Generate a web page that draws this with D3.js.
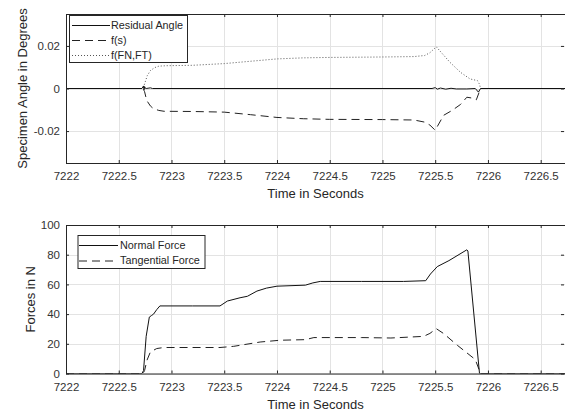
<!DOCTYPE html>
<html>
<head>
<meta charset="utf-8">
<title>Specimen angle and forces</title>
<script src="https://d3js.org/d3.v7.min.js"></script>
<style>
body { margin: 0; background: #fff; }
text { font-family: "Liberation Sans", Arial, Helvetica, sans-serif; }
.grid line { stroke: #e3e3e3; stroke-width: 1px; }
.line { fill: none; stroke-width: 1px; }
</style>
</head>
<body>
<div id="chart"></div>
<script>

// ---- data ----
var xTicks = [7222, 7222.5, 7223, 7223.5, 7224, 7224.5, 7225, 7225.5, 7226, 7226.5];
var xTickLabels = ["7222", "7222.5", "7223", "7223.5", "7224", "7224.5", "7225", "7225.5", "7226", "7226.5"];
var xDomain = [7222, 7226.74];

var angleTicks = [-0.02, 0, 0.02];
var angleTickLabels = ["-0.02", "0", "0.02"];
var angleDomain = [-0.035, 0.035];

var forceTicks = [0, 20, 40, 60, 80, 100];
var forceTickLabels = ["0", "20", "40", "60", "80", "100"];
var forceDomain = [0, 100];

// Residual Angle
var residualT = [7222, 7222.72, 7222.735, 7222.74, 7222.745, 7222.75, 7222.76, 7222.8, 7222.82, 7225.47, 7225.5, 7225.52, 7225.55, 7225.6, 7225.65, 7225.7, 7225.8, 7225.88, 7225.91, 7225.93, 7226.74];
var residualV = [0, 0, 0.0012, -0.0006, 0.0009, 0.0002, 0, 0.0003, 0, 0, 0.0004, -0.0003, 0.0002, -0.0003, 0.0001, -0.0002, -0.0002, 0, -0.0017, 0, 0];

// f(s)
var fsT = [7222, 7222.73, 7222.745, 7222.765, 7222.8, 7222.83, 7222.88, 7222.93, 7223.2, 7223.5, 7223.75, 7224.0, 7224.25, 7224.5, 7225.0, 7225.3, 7225.4, 7225.45, 7225.5, 7225.58, 7225.66, 7225.74, 7225.8, 7225.85, 7225.89, 7225.93, 7226.74];
var fsV = [0, 0, -0.0015, -0.0056, -0.0082, -0.0095, -0.0103, -0.0107, -0.0108, -0.0111, -0.0123, -0.0136, -0.0142, -0.0145, -0.0146, -0.0148, -0.0158, -0.0172, -0.0196, -0.0126, -0.0103, -0.0075, -0.0041, -0.0045, -0.0053, 0, 0];

// f(FN,FT)
var ffT = [7222, 7222.73, 7222.74, 7222.77, 7222.8, 7222.84, 7222.88, 7222.95, 7223.2, 7223.5, 7223.75, 7224.0, 7224.25, 7224.5, 7225.0, 7225.3, 7225.4, 7225.45, 7225.51, 7225.64, 7225.74, 7225.83, 7225.9, 7225.92, 7225.93, 7226.74];
var ffV = [0, 0, 0.0014, 0.006, 0.0084, 0.0098, 0.0105, 0.0107, 0.0109, 0.0117, 0.0128, 0.0139, 0.0144, 0.0146, 0.0148, 0.0150, 0.0155, 0.0168, 0.0196, 0.0123, 0.0076, 0.0045, 0.0037, 0.0020, 0, 0];

// Normal Force
var normalT = [7222, 7222.72, 7222.735, 7222.76, 7222.79, 7222.81, 7222.83, 7222.86, 7222.89, 7223.2, 7223.46, 7223.53, 7223.65, 7223.72, 7223.81, 7223.9, 7224.0, 7224.27, 7224.34, 7224.41, 7224.8, 7225.2, 7225.41, 7225.455, 7225.52, 7225.63, 7225.8, 7225.81, 7225.92, 7226.74];
var normalV = [0, 0, 2, 25, 38, 39, 40, 43, 45.5, 45.5, 45.5, 48.8, 51, 52, 55.5, 57.5, 58.8, 59.5, 61, 62, 62, 62, 62.5, 67, 72, 76, 83.3, 82.5, 0, 0];

// Tangential Force
var tangT = [7222, 7222.73, 7222.745, 7222.768, 7222.8, 7222.86, 7222.925, 7223.2, 7223.46, 7223.59, 7223.84, 7224.03, 7224.27, 7224.35, 7224.8, 7225.08, 7225.39, 7225.45, 7225.51, 7225.58, 7225.71, 7225.88, 7225.93, 7226.74];
var tangV = [0, 0, 2, 9, 14.5, 16.8, 17.5, 17.5, 17.5, 18.3, 21.2, 22.4, 22.8, 24.2, 24.2, 23.9, 25, 27, 30.2, 26.9, 19, 9.4, 0, 0];

// ---- layout ----
var width = 565, height = 412;
var left = 66, right = 566;
var axisColor = "#262626";

var svg = d3.select("#chart")
  .append("svg")
  .attr("width", width)
  .attr("height", height);

var x = d3.scaleLinear().domain(xDomain).range([left, right]);

function zip(ts, vs) {
  return ts.map(function(t, i) { return [t, vs[i]]; });
}

function panel(id, top, bottom, yDomain, yTicks, yTickLabels, yTitle, yTitleX) {
  var y = d3.scaleLinear().domain(yDomain).range([bottom, top]);
  var g = svg.append("g");

  g.append("clipPath").attr("id", "clip-" + id)
    .append("rect")
    .attr("x", left).attr("y", top)
    .attr("width", right - left).attr("height", bottom - top);

  // grid
  var grid = g.append("g").attr("class", "grid");
  grid.selectAll("line.vx").data(xTicks).enter().append("line")
    .attr("x1", function(d) { return Math.round(x(d)) + 0.5; })
    .attr("x2", function(d) { return Math.round(x(d)) + 0.5; })
    .attr("y1", top).attr("y2", bottom);
  grid.selectAll("line.hy").data(yTicks).enter().append("line")
    .attr("y1", function(d) { return Math.round(y(d)) + 0.5; })
    .attr("y2", function(d) { return Math.round(y(d)) + 0.5; })
    .attr("x1", left).attr("x2", right);

  var lineGen = d3.line()
    .x(function(d) { return x(d[0]); })
    .y(function(d) { return y(d[1]); });

  var lines = g.append("g").attr("clip-path", "url(#clip-" + id + ")");

  // axes: ticks point inward like the original
  g.append("g")
    .attr("transform", "translate(0," + bottom + ")")
    .attr("color", axisColor)
    .call(d3.axisBottom(x).tickValues(xTicks)
      .tickFormat(function(d, i) { return xTickLabels[i]; })
      .tickSize(-3).tickSizeOuter(0).tickPadding(9))
    .call(function(a) {
      a.select(".domain").remove();
      a.selectAll("text").attr("fill", "#333").style("font-size", "11.5px");
    });

  g.append("g")
    .attr("transform", "translate(0," + top + ")")
    .attr("color", axisColor)
    .call(d3.axisTop(x).tickValues(xTicks).tickFormat("").tickSize(-3).tickSizeOuter(0))
    .call(function(a) { a.select(".domain").remove(); });

  g.append("g")
    .attr("transform", "translate(" + left + ",0)")
    .attr("color", axisColor)
    .call(d3.axisLeft(y).tickValues(yTicks)
      .tickFormat(function(d, i) { return yTickLabels[i]; })
      .tickSize(-3).tickSizeOuter(0).tickPadding(6))
    .call(function(a) {
      a.select(".domain").remove();
      a.selectAll("text").attr("fill", "#333").style("font-size", "11.5px");
    });

  g.append("g")
    .attr("transform", "translate(" + (right - 2) + ",0)")
    .attr("color", axisColor)
    .call(d3.axisRight(y).tickValues(yTicks).tickFormat("").tickSize(-3).tickSizeOuter(0))
    .call(function(a) { a.select(".domain").remove(); });

  // box
  g.append("rect")
    .attr("x", left + 0.5).attr("y", top + 0.5)
    .attr("width", right - left).attr("height", bottom - top)
    .attr("fill", "none")
    .attr("stroke", axisColor)
    .attr("stroke-width", 1);

  g.append("text")
    .attr("x", (left + 565) / 2)
    .attr("y", bottom + 35)
    .attr("text-anchor", "middle")
    .attr("fill", "#262626")
    .style("font-size", "13px")
    .text("Time in Seconds");

  g.append("text")
    .attr("transform", "translate(" + yTitleX + "," + ((top + bottom) / 2) + ") rotate(-90)")
    .attr("text-anchor", "middle")
    .attr("dy", "0.35em")
    .attr("fill", "#262626")
    .style("font-size", "13px")
    .text(yTitle);

  return { lines: lines, lineGen: lineGen, g: g };
}

var p1 = panel("angle", 14, 163, angleDomain, angleTicks, angleTickLabels, "Specimen Angle in Degrees", 22);
var p2 = panel("force", 225, 373.5, forceDomain, forceTicks, forceTickLabels, "Forces in N", 30);

var styles = {
  solid:  { stroke: "#111", dash: null },
  dashed: { stroke: "#222", dash: "8,5" },
  dotted: { stroke: "#555", dash: "1,2" }
};

function drawLine(p, data, st) {
  p.lines.append("path")
    .datum(data)
    .attr("class", "line")
    .attr("stroke", styles[st].stroke)
    .attr("stroke-dasharray", styles[st].dash)
    .attr("d", p.lineGen);
}

drawLine(p1, zip(fsT, fsV), "dashed");
drawLine(p1, zip(ffT, ffV), "dotted");
drawLine(p1, zip(residualT, residualV), "solid");

drawLine(p2, zip(tangT, tangV), "dashed");
drawLine(p2, zip(normalT, normalV), "solid");

// legends
function legend(p, bx, by, bw, bh, rows, rowGap, lineX1, lineX2, textX) {
  var lg = p.g.append("g");
  lg.append("rect")
    .attr("x", bx + 0.5).attr("y", by + 0.5)
    .attr("width", bw).attr("height", bh)
    .attr("fill", "#fff")
    .attr("stroke", "#262626");
  rows.forEach(function(r, i) {
    var cy = by + 10 + i * rowGap;
    lg.append("line")
      .attr("x1", lineX1).attr("x2", lineX2)
      .attr("y1", cy + 0.5).attr("y2", cy + 0.5)
      .attr("stroke", styles[r.style].stroke)
      .attr("stroke-dasharray", styles[r.style].dash)
      .attr("stroke-width", 1);
    lg.append("text")
      .attr("x", textX).attr("y", cy)
      .attr("dy", "0.35em")
      .attr("fill", "#262626")
      .style("font-size", "10.8px")
      .text(r.name);
  });
}

legend(p1, 69, 15, 118, 47,
  [{ name: "Residual Angle", style: "solid" },
   { name: "f(s)", style: "dashed" },
   { name: "f(FN,FT)", style: "dotted" }],
  15, 72, 110, 111);

legend(p2, 77.5, 235, 127, 33,
  [{ name: "Normal Force", style: "solid" },
   { name: "Tangential Force", style: "dashed" }],
  15.5, 79, 118, 120);

</script>
</body>
</html>
